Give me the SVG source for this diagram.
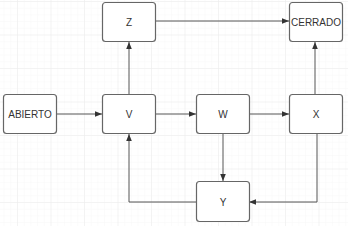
<svg xmlns="http://www.w3.org/2000/svg" width="348" height="226" viewBox="0 0 348 226">
<defs>
<pattern id="minor" x="17" y="1" width="6.7" height="6.7" patternUnits="userSpaceOnUse">
<path d="M0 0H6.7M0 0V6.7" fill="none" stroke="#f7f7f7" stroke-width="1"/>
</pattern>
<pattern id="major" x="17" y="1" width="33.5" height="33.5" patternUnits="userSpaceOnUse">
<path d="M0 0H33.5M0 0V33.5" fill="none" stroke="#ebebeb" stroke-width="1"/>
</pattern>
<marker id="arr" viewBox="0 0 10 10" refX="10" refY="5" markerWidth="7" markerHeight="7" orient="auto" markerUnits="userSpaceOnUse">
<path d="M0 1L10 5L0 9Z" fill="#333"/>
</marker>
<style>
.box{fill:#fff;stroke:#666;stroke-width:1.2}
.lbl{font-family:"Liberation Sans",Arial,sans-serif;font-size:10px;fill:#333;text-anchor:middle;dominant-baseline:central}
.edge{fill:none;stroke:#555;stroke-width:1;marker-end:url(#arr)}
</style>
</defs>
<rect width="348" height="226" fill="#fff"/>
<rect width="348" height="226" fill="url(#minor)"/>
<rect width="348" height="226" fill="url(#major)"/>
<g id="connectors">
<path class="edge" d="M56 114H102"/>
<path class="edge" d="M129 94V42"/>
<path class="edge" d="M156 21H289"/>
<path class="edge" d="M156 114H196"/>
<path class="edge" d="M249 114H289"/>
<path class="edge" d="M315 94V42"/>
<path class="edge" d="M223 134V181"/>
<path class="edge" d="M317 134V202H249"/>
<path class="edge" d="M196 202H129V134"/>
</g>
<g id="Z"><rect class="box" x="102.5" y="2.5" width="53" height="39" rx="3"/><text class="lbl" x="129" y="22">Z</text></g>
<g id="CERRADO"><rect class="box" x="289.5" y="2.5" width="53" height="39" rx="3"/><text class="lbl" x="316" y="22">CERRADO</text></g>
<g id="ABIERTO"><rect class="box" x="3.5" y="94.5" width="53" height="39" rx="3"/><text class="lbl" x="30" y="114">ABIERTO</text></g>
<g id="V"><rect class="box" x="102.5" y="94.5" width="53" height="39" rx="3"/><text class="lbl" x="129" y="114">V</text></g>
<g id="W"><rect class="box" x="196.5" y="94.5" width="53" height="39" rx="3"/><text class="lbl" x="223" y="114">W</text></g>
<g id="X"><rect class="box" x="289.5" y="94.5" width="53" height="39" rx="3"/><text class="lbl" x="316" y="114">X</text></g>
<g id="Y"><rect class="box" x="196.5" y="181.5" width="53" height="40" rx="3"/><text class="lbl" x="223" y="202">Y</text></g>
</svg>
